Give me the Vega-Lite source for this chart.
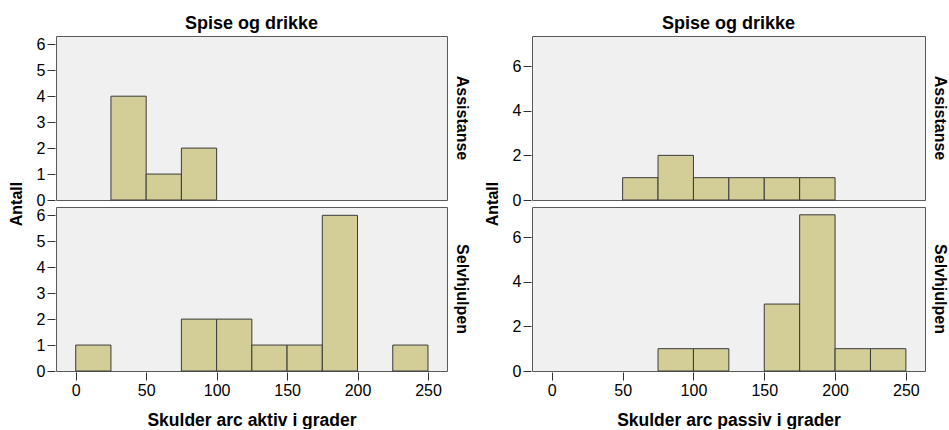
{
  "$schema": "https://vega.github.io/schema/vega-lite/v6.json",
  "padding": {"left": 9, "top": 15, "right": 0, "bottom": 0},
  "background": "white",
  "datasets": {
    "aktiv": [
      {"activity": "Spise og drikke", "group": "Assistanse", "bin_start": 25, "bin_end": 50, "count": 4},
      {"activity": "Spise og drikke", "group": "Assistanse", "bin_start": 50, "bin_end": 75, "count": 1},
      {"activity": "Spise og drikke", "group": "Assistanse", "bin_start": 75, "bin_end": 100, "count": 2},
      {"activity": "Spise og drikke", "group": "Selvhjulpen", "bin_start": 0, "bin_end": 25, "count": 1},
      {"activity": "Spise og drikke", "group": "Selvhjulpen", "bin_start": 75, "bin_end": 100, "count": 2},
      {"activity": "Spise og drikke", "group": "Selvhjulpen", "bin_start": 100, "bin_end": 125, "count": 2},
      {"activity": "Spise og drikke", "group": "Selvhjulpen", "bin_start": 125, "bin_end": 150, "count": 1},
      {"activity": "Spise og drikke", "group": "Selvhjulpen", "bin_start": 150, "bin_end": 175, "count": 1},
      {"activity": "Spise og drikke", "group": "Selvhjulpen", "bin_start": 175, "bin_end": 200, "count": 6},
      {"activity": "Spise og drikke", "group": "Selvhjulpen", "bin_start": 225, "bin_end": 250, "count": 1}
    ],
    "passiv": [
      {"activity": "Spise og drikke", "group": "Assistanse", "bin_start": 50, "bin_end": 75, "count": 1},
      {"activity": "Spise og drikke", "group": "Assistanse", "bin_start": 75, "bin_end": 100, "count": 2},
      {"activity": "Spise og drikke", "group": "Assistanse", "bin_start": 100, "bin_end": 125, "count": 1},
      {"activity": "Spise og drikke", "group": "Assistanse", "bin_start": 125, "bin_end": 150, "count": 1},
      {"activity": "Spise og drikke", "group": "Assistanse", "bin_start": 150, "bin_end": 175, "count": 1},
      {"activity": "Spise og drikke", "group": "Assistanse", "bin_start": 175, "bin_end": 200, "count": 1},
      {"activity": "Spise og drikke", "group": "Selvhjulpen", "bin_start": 75, "bin_end": 100, "count": 1},
      {"activity": "Spise og drikke", "group": "Selvhjulpen", "bin_start": 100, "bin_end": 125, "count": 1},
      {"activity": "Spise og drikke", "group": "Selvhjulpen", "bin_start": 150, "bin_end": 175, "count": 3},
      {"activity": "Spise og drikke", "group": "Selvhjulpen", "bin_start": 175, "bin_end": 200, "count": 7},
      {"activity": "Spise og drikke", "group": "Selvhjulpen", "bin_start": 200, "bin_end": 225, "count": 1},
      {"activity": "Spise og drikke", "group": "Selvhjulpen", "bin_start": 225, "bin_end": 250, "count": 1}
    ]
  },
  "spacing": 15,
  "hconcat": [
    {
      "data": {"name": "aktiv"},
      "facet": {
        "row": {"field": "group", "type": "nominal", "title": "Antall",
          "header": {"labelOrient": "right", "labelAngle": 90, "titleOrient": "left", "labelFontSize": 16, "labelFontWeight": "bold", "titleFontSize": 16, "titleFontWeight": "bold", "labelPadding": 6, "titlePadding": 1}},
        "column": {"field": "activity", "type": "nominal", "title": null,
          "header": {"labelOrient": "top", "labelFontSize": 18, "labelFontWeight": "bold", "labelPadding": 2}}
      },
      "spacing": {"row": 5, "column": 0},
      "spec": {
        "width": 391,
        "height": 164,
        "mark": {"type": "bar", "fill": "#D3CE97", "stroke": "#3a3a3a", "strokeWidth": 1, "opacity": 1},
        "encoding": {
          "x": {"field": "bin_start", "type": "quantitative", "scale": {"domain": [-14, 263.5], "nice": false, "zero": false},
            "axis": {"values": [0, 50, 100, 150, 200, 250], "title": "Skulder arc aktiv i grader"}},
          "x2": {"field": "bin_end"},
          "y": {"field": "count", "type": "quantitative", "scale": {"domain": [0, 6.32], "nice": false},
            "axis": {"values": [0, 1, 2, 3, 4, 5, 6], "title": null}},
          "y2": {"datum": 0}
        }
      }
    },
    {
      "data": {"name": "passiv"},
      "facet": {
        "row": {"field": "group", "type": "nominal", "title": "Antall",
          "header": {"labelOrient": "right", "labelAngle": 90, "titleOrient": "left", "labelFontSize": 16, "labelFontWeight": "bold", "titleFontSize": 16, "titleFontWeight": "bold", "labelPadding": 6, "titlePadding": 1}},
        "column": {"field": "activity", "type": "nominal", "title": null,
          "header": {"labelOrient": "top", "labelFontSize": 18, "labelFontWeight": "bold", "labelPadding": 2}}
      },
      "spacing": {"row": 5, "column": 0},
      "spec": {
        "width": 393,
        "height": 164,
        "mark": {"type": "bar", "fill": "#D3CE97", "stroke": "#3a3a3a", "strokeWidth": 1, "opacity": 1},
        "encoding": {
          "x": {"field": "bin_start", "type": "quantitative", "scale": {"domain": [-14, 263.5], "nice": false, "zero": false},
            "axis": {"values": [0, 50, 100, 150, 200, 250], "title": "Skulder arc passiv i grader"}},
          "x2": {"field": "bin_end"},
          "y": {"field": "count", "type": "quantitative", "scale": {"domain": [0, 7.35], "nice": false},
            "axis": {"values": [0, 2, 4, 6], "title": null}},
          "y2": {"datum": 0}
        }
      }
    }
  ],
  "config": {
    "font": "Liberation Sans",
    "view": {"fill": "#F0F0F0", "stroke": "#5a5a5a", "strokeWidth": 1},
    "axis": {
      "grid": false,
      "domain": false,
      "tickColor": "#333333",
      "tickSize": 8,
      "labelFontSize": 16,
      "labelColor": "#000000",
      "labelPadding": 2,
      "titleFontSize": 17.5,
      "titleFontWeight": "bold",
      "titleColor": "#000000",
      "titlePadding": 13
    },
    "header": {"labelColor": "#000000", "titleColor": "#000000"}
  }
}
